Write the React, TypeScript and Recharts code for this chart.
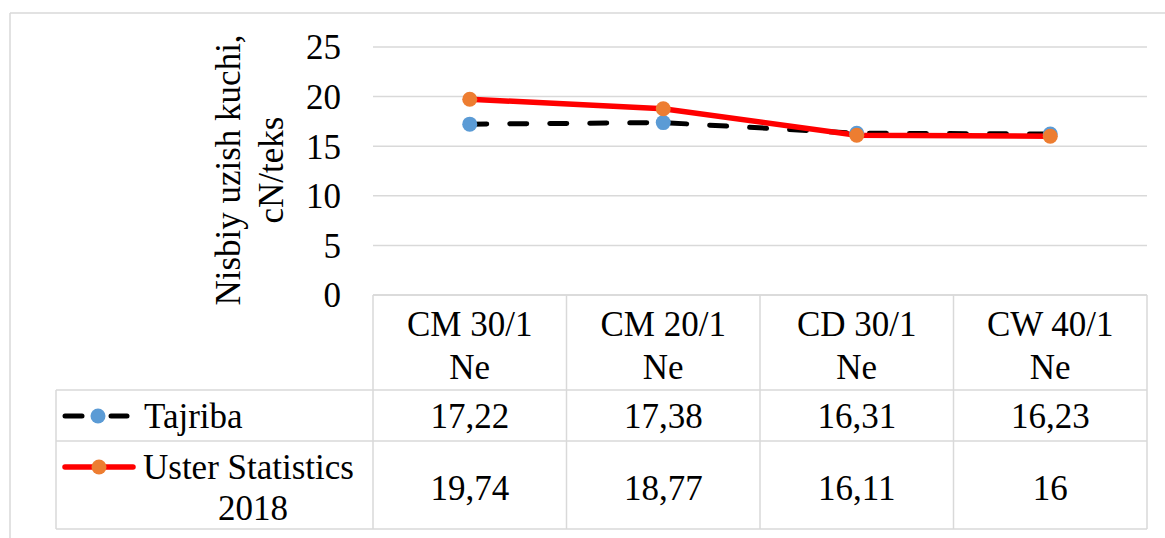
import React from 'react';
import { LineChart, Line, XAxis, YAxis, CartesianGrid, Customized } from 'recharts';

const categories = ['CM 30/1\nNe', 'CM 20/1\nNe', 'CD 30/1\nNe', 'CW 40/1\nNe'];
const tajriba = [17.22, 17.38, 16.31, 16.23];
const uster = [19.74, 18.77, 16.11, 16];
const yTicks = [0, 5, 10, 15, 20, 25];
const seriesNames = ['Tajriba', 'Uster Statistics\n2018'];
const yTitle = ['Nisbiy uzish kuchi,', 'cN/teks'];

const data = categories.map((c, i) => ({ cat: c, tajriba: tajriba[i], uster: uster[i] }));

const W = 1165;
const H = 538;
const PLOT_L = 373;
const PLOT_R = 1147;
const PLOT_T = 47;
const PLOT_B = 295;
const ROW1 = 390;
const ROW2 = 441;
const ROW3 = 529;
const LEG_L = 56;
const BORDER = '#d9d9d9';
const FONT = 'Liberation Serif, Tinos, DejaVu Serif, Noto Serif, serif';
const FS = 35;
const BLUE = '#5b9bd5';
const ORANGE = '#ed7d31';

const fmt = (v: number) => String(v).replace('.', ',');

const txt = (x: number, y: number, s: string, anchor: string = 'middle', key?: any) => (
  <text key={key} x={x} y={y} textAnchor={anchor} dominantBaseline="central" style={{ fontFamily: FONT, fontSize: FS }} fill="#000">
    {s}
  </text>
);

const TableTick = (props: any) => {
  const { x, payload } = props;
  const i = categories.indexOf(payload.value);
  const half = (PLOT_R - PLOT_L) / categories.length / 2;
  const lines = String(payload.value).split('\n');
  return (
    <g>
      {i === 0 && <line x1={x - half} y1={PLOT_B} x2={x - half} y2={ROW3} stroke={BORDER} strokeWidth={1.5} />}
      <line x1={x + half} y1={PLOT_B} x2={x + half} y2={ROW3} stroke={BORDER} strokeWidth={1.5} />
      {lines.map((l, k) => txt(x, 324 + k * 43, l, 'middle', k))}
      {txt(x, 416, fmt(tajriba[i]))}
      {txt(x, 488, fmt(uster[i]))}
    </g>
  );
};

const Extras = () => {
  const unames = seriesNames[1].split('\n');
  return (
    <g>
      <line x1={10} y1={13} x2={W} y2={13} stroke={BORDER} strokeWidth={1.5} />
      <line x1={10} y1={13} x2={10} y2={H} stroke={BORDER} strokeWidth={1.5} />
      <line x1={LEG_L} y1={ROW1} x2={LEG_L} y2={ROW3} stroke={BORDER} strokeWidth={1.5} />
      <line x1={LEG_L} y1={ROW1} x2={PLOT_R} y2={ROW1} stroke={BORDER} strokeWidth={1.5} />
      <line x1={LEG_L} y1={ROW2} x2={PLOT_R} y2={ROW2} stroke={BORDER} strokeWidth={1.5} />
      <line x1={LEG_L} y1={ROW3} x2={PLOT_R} y2={ROW3} stroke={BORDER} strokeWidth={1.5} />
      <line x1={65} y1={416} x2={82} y2={416} stroke="#000" strokeWidth={5} strokeLinecap="round" />
      <line x1={111} y1={416} x2={127} y2={416} stroke="#000" strokeWidth={5} strokeLinecap="round" />
      <circle cx={98} cy={416} r={7.5} fill={BLUE} />
      {txt(144, 416, seriesNames[0], 'start')}
      <line x1={65} y1={467} x2={133} y2={467} stroke="#ff0000" strokeWidth={5.5} strokeLinecap="round" />
      <circle cx={99} cy={467} r={7.5} fill={ORANGE} />
      {txt(143, 467, unames[0], 'start')}
      {txt(253, 508, unames[1], 'middle')}
      <g transform="translate(228,170) rotate(-90)">
        {txt(0, 0, yTitle[0])}
      </g>
      <g transform="translate(271,170) rotate(-90)">
        {txt(0, 0, yTitle[1])}
      </g>
    </g>
  );
};

const makeDot = (color: string) => (p: any) => {
  if (p.cx == null || p.cy == null) return <g key={p.index} />;
  return <circle key={p.index} cx={p.cx} cy={p.cy} r={7.5} fill={color} stroke="none" />;
};

export default function App() {
  return (
    <div style={{ position: 'absolute', left: 0, top: 0, width: W, height: H, background: '#fff', fontFamily: FONT }}>
      <LineChart
        width={W}
        height={H}
        data={data}
        margin={{ top: PLOT_T, right: W - PLOT_R, left: PLOT_L - 60, bottom: 0 }}
        style={{ fontFamily: FONT }}
      >
        <CartesianGrid horizontal vertical={false} stroke={BORDER} strokeWidth={1.5} />
        <XAxis
          dataKey="cat"
          height={H - PLOT_B}
          padding={{ left: (PLOT_R - PLOT_L) / 8, right: (PLOT_R - PLOT_L) / 8 }}
          axisLine={{ stroke: BORDER, strokeWidth: 1.5 }}
          tickLine={false}
          tick={<TableTick />}
          interval={0}
        />
        <YAxis
          width={60}
          domain={[0, 25]}
          ticks={yTicks}
          axisLine={false}
          tickLine={false}
          tickSize={6}
          tickMargin={26}
          tick={{ fontFamily: FONT, fontSize: FS, fill: '#000', style: { fontFamily: FONT } }}
        />
        <Customized component={Extras} />
        <Line
          dataKey="tajriba"
          stroke="#000"
          strokeWidth={5}
          strokeDasharray="17 23"
          strokeLinecap="round"
          dot={makeDot(BLUE)}
          activeDot={false}
          isAnimationActive={false}
        />
        <Line
          dataKey="uster"
          stroke="#ff0000"
          strokeWidth={5.5}
          dot={makeDot(ORANGE)}
          activeDot={false}
          isAnimationActive={false}
        />
      </LineChart>
    </div>
  );
}
